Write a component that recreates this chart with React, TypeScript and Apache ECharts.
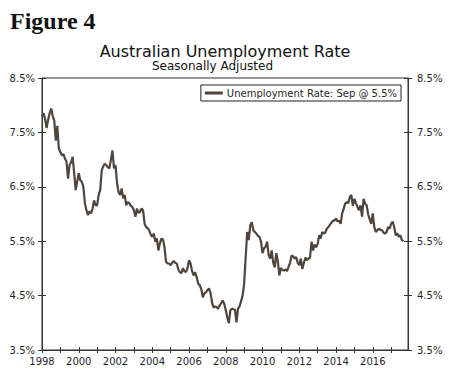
import React, { useEffect, useRef } from "react";
import * as echarts from "echarts";

const startYear = 1998;
const endYear = 2017;

// Month categories Jan 1998 .. Dec 2017
const months: string[] = [];
for (let y = startYear; y <= endYear; y++) {
  for (let m = 1; m <= 12; m++) months.push(`${y}-${m < 10 ? "0" + m : m}`);
}

const rate1998 = [7.8, 7.85, 7.75, 7.58, 7.73, 7.85, 7.94, 7.8, 7.72, 7.35, 7.62, 7.2];
const rate1999 = [7.14, 7.08, 7.1, 7.02, 6.96, 6.65, 6.9, 6.95, 7.05, 6.75, 6.44, 6.6];
const rate2000 = [6.75, 6.62, 6.59, 6.5, 6.2, 6.07, 5.98, 6.05, 6.01, 6.1, 6.25, 6.16];
const rate2001 = [6.16, 6.35, 6.44, 6.8, 6.88, 6.92, 6.9, 6.86, 6.84, 7.0, 7.17, 6.84];
const rate2002 = [6.9, 6.57, 6.4, 6.35, 6.47, 6.29, 6.35, 6.16, 6.22, 6.2, 6.15, 6.13];
const rate2003 = [6.07, 5.95, 6.1, 6.02, 6.04, 6.1, 6.07, 5.82, 5.76, 5.74, 5.7, 5.62];
const rate2004 = [5.58, 5.64, 5.49, 5.55, 5.33, 5.46, 5.55, 5.53, 5.39, 5.12, 5.09, 5.09];
const rate2005 = [5.06, 5.1, 5.14, 5.1, 5.09, 4.98, 4.93, 4.91, 5.0, 4.95, 4.93, 5.0];
const rate2006 = [5.15, 5.09, 4.95, 4.87, 4.93, 4.84, 4.72, 4.69, 4.62, 4.47, 4.54, 4.56];
const rate2007 = [4.6, 4.63, 4.56, 4.38, 4.28, 4.3, 4.29, 4.26, 4.32, 4.36, 4.41, 4.35];
const rate2008 = [4.23, 4.1, 3.99, 4.23, 4.26, 4.25, 4.24, 4.01, 4.26, 4.3, 4.4, 4.5];
const rate2009 = [4.72, 5.21, 5.67, 5.52, 5.79, 5.85, 5.7, 5.67, 5.64, 5.6, 5.58, 5.49];
const rate2010 = [5.28, 5.37, 5.4, 5.49, 5.25, 5.18, 5.33, 5.1, 5.02, 5.28, 5.13, 4.87];
const rate2011 = [5.01, 4.97, 4.96, 4.98, 4.95, 5.03, 5.1, 5.24, 5.22, 5.18, 5.21, 5.1];
const rate2012 = [5.06, 5.18, 4.99, 5.1, 5.2, 5.15, 5.18, 5.2, 5.49, 5.33, 5.44, 5.39];
const rate2013 = [5.45, 5.61, 5.55, 5.67, 5.64, 5.66, 5.73, 5.76, 5.8, 5.84, 5.88, 5.88];
const rate2014 = [5.92, 5.86, 5.88, 5.82, 6.01, 6.1, 6.19, 6.22, 6.2, 6.31, 6.35, 6.15];
const rate2015 = [6.28, 6.2, 6.13, 6.07, 6.16, 5.95, 6.28, 6.19, 6.16, 5.99, 5.9, 5.82];
const rate2016 = [6.01, 5.76, 5.67, 5.7, 5.73, 5.71, 5.7, 5.66, 5.64, 5.67, 5.76, 5.73];
const rate2017 = [5.82, 5.86, 5.76, 5.61, 5.64, 5.58, 5.61, 5.52, 5.5];

const unemployment = [
  ...rate1998, ...rate1999, ...rate2000, ...rate2001, ...rate2002,
  ...rate2003, ...rate2004, ...rate2005, ...rate2006, ...rate2007,
  ...rate2008, ...rate2009, ...rate2010, ...rate2011, ...rate2012,
  ...rate2013, ...rate2014, ...rate2015, ...rate2016, ...rate2017,
];

const yMin = 3.5;
const yMax = 8.5;
const yStep = 1;

const FONT = "DejaVu Sans";
const AXIS = "#333333";
const TEXT = "#1f1f2a";
const LINE = "#4f453b";

export default function App() {
  const ref = useRef<HTMLDivElement>(null);
  useEffect(() => {
    if (!ref.current) return;
    const chart = echarts.init(ref.current, null, { renderer: "svg" });

    const yBase = {
      type: "value",
      min: yMin,
      max: yMax,
      interval: yStep,
      splitLine: { show: false },
      axisLine: { show: true, lineStyle: { color: AXIS, width: 1 } },
    };
    const labelFmt = (v: number) => v.toFixed(1) + "%";

    chart.setOption({
      animation: false,
      backgroundColor: "#ffffff",
      title: [
        {
          text: "Figure 4",
          left: 5,
          top: 4,
          textStyle: { fontFamily: "Liberation Serif", fontWeight: "bold", fontSize: 24, color: "#111" },
        },
        {
          text: "Australian Unemployment Rate",
          left: "center",
          top: 38,
          textStyle: { fontFamily: FONT, fontWeight: "normal", fontSize: 16, color: "#111" },
        },
        {
          text: "Seasonally Adjusted",
          left: 147,
          top: 55,
          textStyle: { fontFamily: FONT, fontWeight: "normal", fontSize: 12, color: "#111" },
        },
      ],
      legend: {
        right: 49,
        top: 85,
        orient: "horizontal",
        borderColor: "#222",
        borderWidth: 1,
        padding: [3, 4, 3, 4],
        itemWidth: 18,
        itemHeight: 3,
        itemGap: 4,
        icon: "rect",
        textStyle: { fontFamily: FONT, fontSize: 10, color: TEXT, padding: [0, 0, 0, -1] },
        data: ["Unemployment Rate: Sep @ 5.5%"],
      },
      grid: {
        left: 42,
        right: 42,
        top: 78,
        bottom: 22,
        show: true,
        borderColor: AXIS,
        borderWidth: 1,
        backgroundColor: "transparent",
      },
      xAxis: [
        {
          type: "category",
          data: months,
          boundaryGap: false,
          position: "bottom",
          axisLine: { show: true, lineStyle: { color: AXIS, width: 1 } },
          axisTick: {
            show: true,
            inside: false,
            length: 3,
            interval: (i: number) => i % 12 === 0,
            lineStyle: { color: AXIS },
          },
          axisLabel: {
            show: true,
            interval: (i: number) => i % 24 === 0,
            formatter: (v: string) => v.slice(0, 4),
            fontFamily: FONT,
            fontSize: 10,
            color: TEXT,
            margin: 6,
          },
          splitLine: { show: false },
        },
        {
          type: "category",
          data: months,
          boundaryGap: false,
          position: "bottom",
          axisLine: { show: false },
          axisTick: {
            show: true,
            inside: true,
            length: 3,
            interval: (i: number) => i % 12 === 0,
            lineStyle: { color: AXIS },
          },
          axisLabel: { show: false },
          splitLine: { show: false },
        },
      ],
      yAxis: [
        {
          ...yBase,
          position: "left",
          axisTick: { show: true, inside: false, length: 4, lineStyle: { color: AXIS } },
          axisLabel: { formatter: labelFmt, fontFamily: FONT, fontSize: 10, color: TEXT, margin: 7 },
        },
        {
          ...yBase,
          position: "left",
          axisLine: { show: false },
          axisTick: { show: true, inside: true, length: 4, lineStyle: { color: AXIS } },
          axisLabel: { show: false },
        },
        {
          ...yBase,
          position: "right",
          axisTick: { show: true, inside: false, length: 4, lineStyle: { color: AXIS } },
          axisLabel: { formatter: labelFmt, fontFamily: FONT, fontSize: 10, color: TEXT, margin: 9 },
        },
        {
          ...yBase,
          position: "right",
          axisLine: { show: false },
          axisTick: { show: true, inside: true, length: 4, lineStyle: { color: AXIS } },
          axisLabel: { show: false },
        },
      ],
      series: [
        {
          name: "Unemployment Rate: Sep @ 5.5%",
          type: "line",
          xAxisIndex: 0,
          yAxisIndex: 0,
          data: unemployment,
          showSymbol: false,
          symbol: "none",
          lineStyle: { color: LINE, width: 2.2 },
          itemStyle: { color: LINE },
        },
      ],
    });
    return () => chart.dispose();
  }, []);

  return (
    <div
      ref={ref}
      style={{ position: "absolute", left: 0, top: 0, width: 450, height: 372, background: "#fff" }}
    />
  );
}
